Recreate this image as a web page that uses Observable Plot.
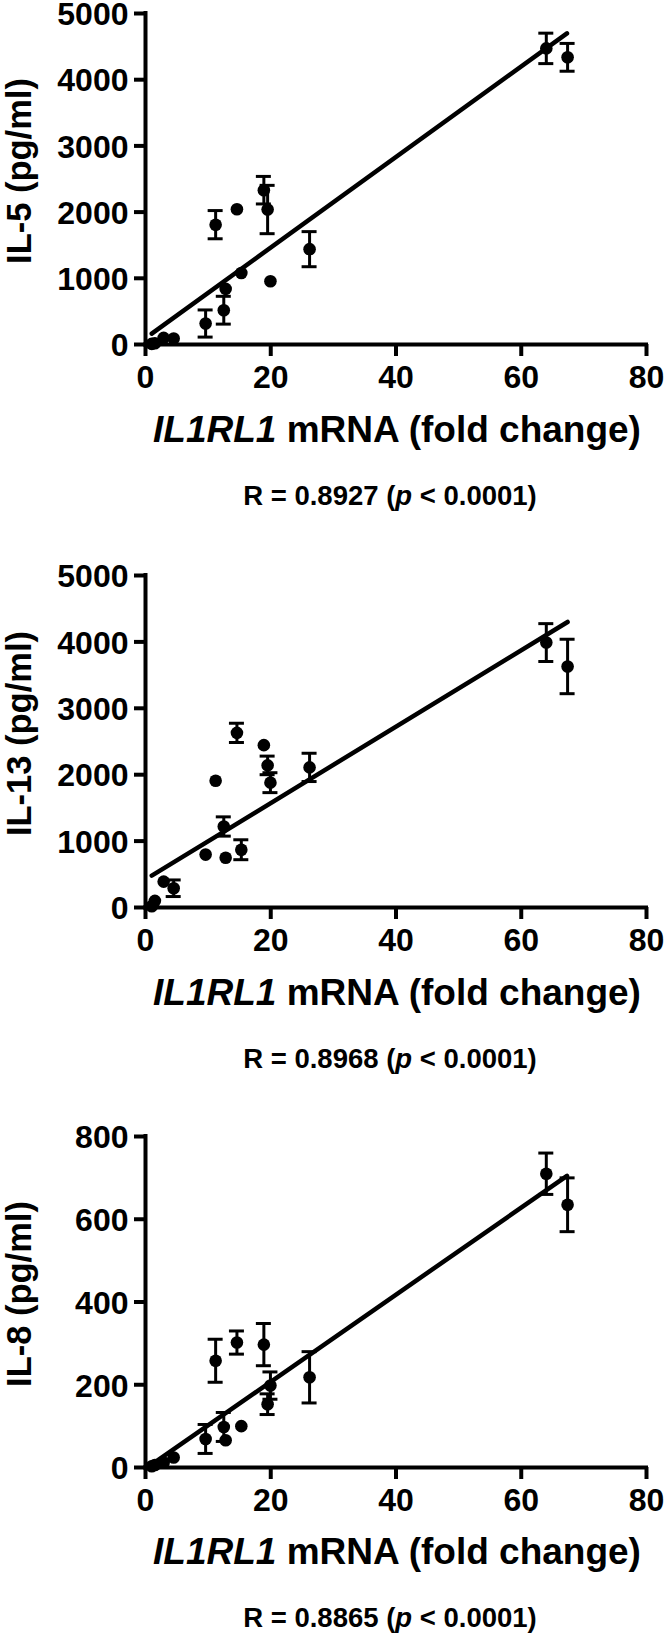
<!DOCTYPE html>
<html>
<head>
<meta charset="utf-8">
<script src="https://cdn.jsdelivr.net/npm/d3@7"></script>
<script src="https://cdn.jsdelivr.net/npm/@observablehq/plot@0.6"></script>
<style>
  html, body { margin: 0; padding: 0; background: #fff; }
  #root { position: relative; width: 664px; height: 1634px; overflow: hidden; font-family: "Liberation Sans", Arial, sans-serif; font-weight: bold; color: #000; }
  .panel { position: absolute; left: 0; }
  .panel svg { display: block; }
  .xtitle { position: absolute; font-size: 37px; line-height: 37px; white-space: nowrap; transform: translateX(-50%); }
  .rcap { position: absolute; font-size: 27.5px; line-height: 27.5px; white-space: nowrap; transform: translateX(-50%); }
</style>
</head>
<body>
<div id="root"></div>
<script>
// Shared x values: IL1RL1 mRNA fold change of each sample
const foldChange = [1.0, 1.5, 2.9, 4.5, 9.6, 11.2, 12.5, 12.8, 14.6, 15.3, 18.9, 19.5, 19.95, 26.2, 64.0, 67.4];

// IL-5 (pg/ml)
const il5    = [10, 20, 100, 90, 317, 1810, 518, 840, 2044, 1080, 2331, 2039, 956, 1440, 4473, 4338];
const il5Err = [0, 0, 0, 0, 205, 213, 210, 0, 0, 0, 208, 365, 0, 265, 230, 210];
// IL-13 (pg/ml)
const il13    = [20, 100, 390, 290, 797, 1910, 1220, 750, 2630, 870, 2445, 2140, 1880, 2110, 3990, 3630];
const il13Err = [0, 0, 0, 125, 0, 0, 145, 0, 145, 150, 0, 140, 150, 213, 285, 410];
// IL-8 (pg/ml)
const il8    = [3, 6, 12, 24, 69, 258, 98, 66, 302, 100, 297, 153, 198, 218, 710, 635];
const il8Err = [0, 0, 0, 0, 35, 52, 35, 0, 28, 0, 51, 25, 33, 62, 50, 65];

// Regression line end points
const fit5X = [1.0, 67.3],  fit5Y = [165, 4700];
const fit13X = [1.0, 67.4], fit13Y = [480, 4300];
const fit8X = [0.5, 67.3],  fit8Y = [2, 705];

// Tick values and labels
const xTicks = [0, 20, 40, 60, 80];
const yTicksBig = [0, 1000, 2000, 3000, 4000, 5000];
const yTicksSmall = [0, 200, 400, 600, 800];
const yLabels = ["IL-5 (pg/ml)", "IL-13 (pg/ml)", "IL-8 (pg/ml)"];
const xTitleItalic = "IL1RL1";
const xTitleRest = " mRNA (fold change)";
const rValues = ["0.8927", "0.8968", "0.8865"];
const pText = "< 0.0001)";

const root = document.getElementById("root");

function panel({y, err, fitX, fitY, yDomain, yTicks, yLabel, top, marginTop, marginBottom, height}) {
  const data = foldChange.map((x, i) => ({x, y: y[i], e: err[i]}));
  const withErr = data.filter(d => d.e > 0);
  const fit = fitX.map((x, i) => ({x, y: fitY[i]}));
  const svg = Plot.plot({
    width: 664,
    height,
    marginLeft: 145,
    marginRight: 18,
    marginTop,
    marginBottom,
    style: {fontFamily: '"Liberation Sans", Arial, sans-serif', fontWeight: "bold", fontSize: "32px", color: "#000", background: "#fff", overflow: "visible"},
    x: {domain: [0, 80]},
    y: {domain: yDomain},
    marks: [
      Plot.axisX({ticks: xTicks, tickSize: 12, tickPadding: 9, strokeWidth: 4, label: null, tickFormat: d => `${d}`}),
      Plot.axisY({ticks: yTicks, tickSize: 11, strokeWidth: 4, label: null, tickFormat: () => ""}),
      Plot.axisY({ticks: yTicks, tickSize: 0, tickPadding: 17, dy: 1.5, label: null, tickFormat: d => `${d}`}),
      Plot.ruleX([0], {strokeWidth: 4, strokeLinecap: "square"}),
      Plot.ruleY([0], {strokeWidth: 4, strokeLinecap: "square"}),
      Plot.text([yLabel], {text: d => d, frameAnchor: "left", textAnchor: "middle", rotate: -90, dx: -126, dy: -8, fontSize: 34.5, fontWeight: "bold", fill: "#000"}),
      Plot.ruleX(withErr, {x: "x", y1: d => d.y - d.e, y2: d => d.y + d.e, strokeWidth: 3}),
      Plot.ruleY(withErr, {y: d => d.y + d.e, x1: "x", x2: "x", insetLeft: -7.5, insetRight: -7.5, strokeWidth: 3}),
      Plot.ruleY(withErr, {y: d => d.y - d.e, x1: "x", x2: "x", insetLeft: -7.5, insetRight: -7.5, strokeWidth: 3}),
      Plot.line(fit, {x: "x", y: "y", strokeWidth: 4.5}),
      Plot.dot(data, {x: "x", y: "y", r: 6.3, fill: "#000", stroke: "none"})
    ]
  });
  const div = document.createElement("div");
  div.className = "panel";
  div.style.top = top + "px";
  div.appendChild(svg);
  root.appendChild(div);
}

function caption(idx, titleTop, rTop) {
  const t = document.createElement("div");
  t.className = "xtitle";
  t.style.top = titleTop + "px";
  t.style.left = "397px";
  const it = document.createElement("i");
  it.textContent = xTitleItalic;
  t.appendChild(it);
  t.appendChild(document.createTextNode(xTitleRest));
  root.appendChild(t);

  const r = document.createElement("div");
  r.className = "rcap";
  r.style.top = rTop + "px";
  r.style.left = "390px";
  r.appendChild(document.createTextNode(`R = ${rValues[idx]} (`));
  const p = document.createElement("i");
  p.textContent = "p";
  r.appendChild(p);
  r.appendChild(document.createTextNode(` ${pText}`));
  root.appendChild(r);
}

panel({y: il5, err: il5Err, fitX: fit5X, fitY: fit5Y, yDomain: [0, 5000], yTicks: yTicksBig, yLabel: yLabels[0], top: 0, marginTop: 13, marginBottom: 56, height: 400});
panel({y: il13, err: il13Err, fitX: fit13X, fitY: fit13Y, yDomain: [0, 5000], yTicks: yTicksBig, yLabel: yLabels[1], top: 560, marginTop: 15, marginBottom: 53, height: 400});
panel({y: il8, err: il8Err, fitX: fit8X, fitY: fit8Y, yDomain: [0, 800], yTicks: yTicksSmall, yLabel: yLabels[2], top: 1120, marginTop: 16, marginBottom: 53, height: 400});

caption(0, 410.7, 481.7);
caption(1, 973.7, 1044.7);
caption(2, 1533, 1603.5);
</script>
</body>
</html>
